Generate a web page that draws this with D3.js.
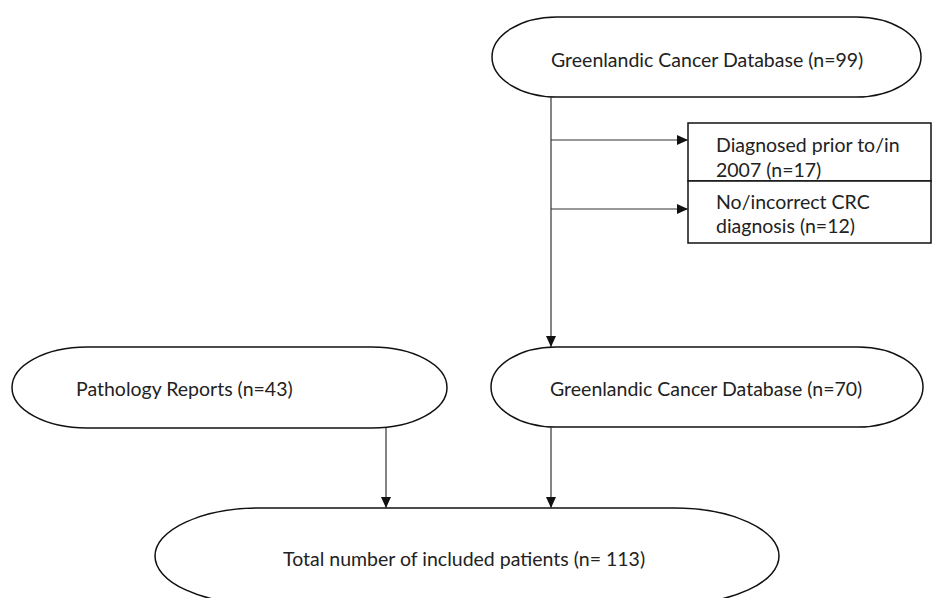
<!DOCTYPE html>
<html>
<head>
<meta charset="utf-8">
<script src="https://cdn.jsdelivr.net/npm/d3@7"></script>
<style>
  body { margin: 0; background: #fff; }
  svg text { font-family: Lato, "Open Sans", sans-serif; fill: #222; }
</style>
</head>
<body>
<div id="chart"></div>
<script>
// flowchart content
const sources = ["Greenlandic Cancer Database", "Pathology Reports"];
const initialCount = [99];
const exclusions = [
  ["Diagnosed prior to/in", "2007 (n=17)"],
  ["No/incorrect CRC", "diagnosis (n=12)"]
];
const remainingCounts = [70, 43];
const totalLabel = "Total number of included patients (n= 113)";

const W = 934, H = 598;
const svg = d3.select("#chart").append("svg")
  .attr("width", W)
  .attr("height", H);

svg.append("defs").append("marker")
  .attr("id", "head")
  .attr("markerUnits", "userSpaceOnUse")
  .attr("markerWidth", 12)
  .attr("markerHeight", 10)
  .attr("refX", 11)
  .attr("refY", 5)
  .attr("orient", "auto")
  .append("path")
  .attr("d", "M0,0 L11,5 L0,10 Z")
  .attr("fill", "#111");

const fs = 19.5;

// terminator shapes
const shapes = [
  {x: 492, y: 17, w: 429, h: 80, rx: 65, label: `${sources[0]} (n=${initialCount[0]})`, tx: 551, ty: 67},
  {x: 491, y: 347, w: 432, h: 80, rx: 65, label: `${sources[0]} (n=${remainingCounts[0]})`, tx: 550, ty: 396},
  {x: 12, y: 347, w: 435, h: 81, rx: 75, label: `${sources[1]} (n=${remainingCounts[1]})`, tx: 76, ty: 396},
  {x: 155, y: 508, w: 624, h: 96, rx: 105, label: totalLabel, tx: 283, ty: 566}
];

svg.selectAll(".term")
  .data(shapes)
  .enter()
  .append("rect")
  .attr("class", "term")
  .attr("x", d => d.x)
  .attr("y", d => d.y)
  .attr("width", d => d.w)
  .attr("height", d => d.h)
  .attr("rx", d => d.rx)
  .attr("ry", d => d.h / 2)
  .attr("fill", "#fff")
  .attr("stroke", "#111")
  .attr("stroke-width", 1.5);

svg.selectAll(".termlabel")
  .data(shapes)
  .enter()
  .append("text")
  .attr("class", "termlabel")
  .attr("x", d => d.tx)
  .attr("y", d => d.ty)
  .attr("font-size", fs)
  .text(d => d.label);

// exclusion boxes
const boxes = [
  {x: 688, y: 123, w: 243, h: 58},
  {x: 688, y: 181, w: 243, h: 62}
];

svg.selectAll(".box")
  .data(boxes)
  .enter()
  .append("rect")
  .attr("class", "box")
  .attr("x", d => d.x)
  .attr("y", d => d.y)
  .attr("width", d => d.w)
  .attr("height", d => d.h)
  .attr("fill", "#fff")
  .attr("stroke", "#111")
  .attr("stroke-width", 1.5);

const boxBase = [[152, 177], [209, 233]];
exclusions.forEach((lines, i) => {
  lines.forEach((ln, j) => {
    svg.append("text")
      .attr("x", 716)
      .attr("y", boxBase[i][j])
      .attr("font-size", fs)
      .text(ln);
  });
});

// connectors
const links = [
  [551, 97, 551, 347],
  [551, 140, 688, 140],
  [551, 209, 688, 209],
  [386, 428, 386, 508],
  [551, 427, 551, 508]
];

svg.selectAll(".link")
  .data(links)
  .enter()
  .append("line")
  .attr("class", "link")
  .attr("x1", d => d[0])
  .attr("y1", d => d[1])
  .attr("x2", d => d[2])
  .attr("y2", d => d[3])
  .attr("stroke", "#333")
  .attr("stroke-width", 1.2)
  .attr("marker-end", "url(#head)");
</script>
</body>
</html>
